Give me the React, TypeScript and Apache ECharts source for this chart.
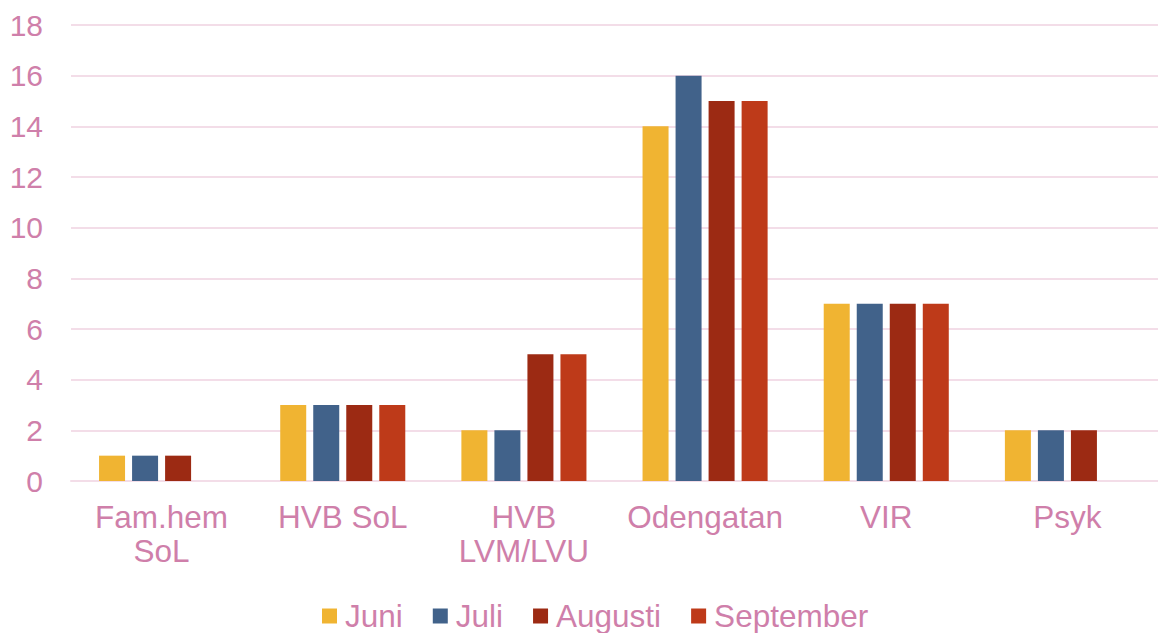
import React, { useEffect, useRef } from "react";
import * as echarts from "echarts";

const categories = ["Fam.hem\nSoL", "HVB SoL", "HVB\nLVM/LVU", "Odengatan", "VIR", "Psyk"];
const juni = [1, 3, 2, 14, 7, 2];
const juli = [1, 3, 2, 16, 7, 2];
const augusti = [1, 3, 5, 15, 7, 2];
const september = [null, 3, 5, 15, 7, null];
const yTicks = { min: 0, max: 18, interval: 2 };

const textColor = "#CF7FAA";
const gridColor = "#F3DDE8";
const font = "'Liberation Sans', Arial, sans-serif";

export default function App() {
  const ref = useRef<HTMLDivElement>(null);
  useEffect(() => {
    if (!ref.current) return;
    const chart = echarts.init(ref.current, undefined, { renderer: "svg" });
    const mk = (name: string, data: (number | null)[], color: string) => ({
      name,
      type: "bar",
      data,
      barWidth: 26,
      barGap: "27%",
      itemStyle: { color },
    });
    chart.setOption({
      animation: false,
      textStyle: { fontFamily: font },
      grid: { left: 71, width: 1093, top: 25, bottom: 152, containLabel: false },
      legend: {
        top: 595,
        left: 317,
        itemWidth: 15,
        itemHeight: 15,
        itemGap: 30,
        icon: "rect",
        textStyle: { fontSize: 31.5, color: textColor, fontFamily: font, padding: [0, 0, 0, 3] },
        data: ["Juni", "Juli", "Augusti", "September"],
      },
      xAxis: {
        type: "category",
        data: categories,
        axisLine: { show: true, lineStyle: { color: gridColor, width: 2 } },
        axisTick: { show: false },
        axisLabel: { color: textColor, fontSize: 31.5, margin: 19, lineHeight: 34, fontFamily: font, interval: 0 },
      },
      yAxis: {
        type: "value",
        min: yTicks.min,
        max: yTicks.max,
        interval: yTicks.interval,
        axisLine: { show: false },
        axisTick: { show: false },
        splitLine: { lineStyle: { color: gridColor, width: 2 } },
        axisLabel: { color: textColor, fontSize: 30, margin: 28, fontFamily: font },
      },
      series: [
        mk("Juni", juni, "#F0B432"),
        mk("Juli", juli, "#41628A"),
        mk("Augusti", augusti, "#9C2A13"),
        mk("September", september, "#BE3A19"),
      ],
    });
    return () => chart.dispose();
  }, []);
  return <div ref={ref} style={{ width: 1158, height: 633, position: "absolute", left: 0, top: 0 }} />;
}
